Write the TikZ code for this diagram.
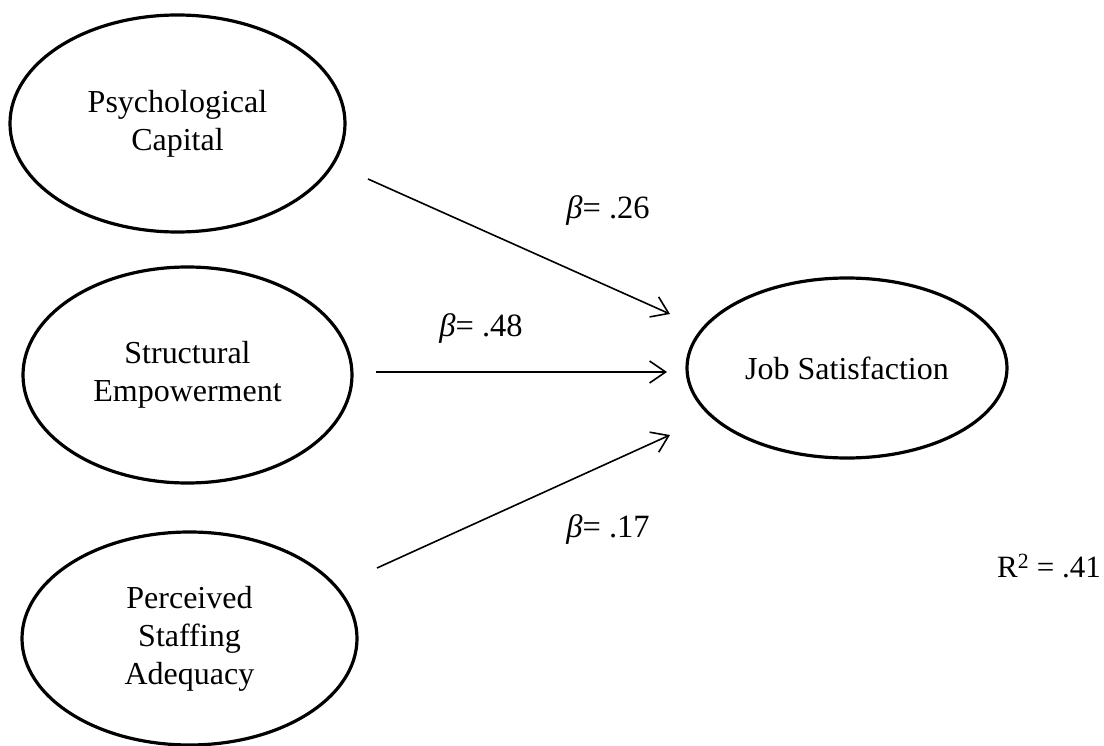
\documentclass[tikz,border=0pt]{standalone}
\usepackage{fontspec}
\setmainfont{Liberation Serif}
\usepackage{tikz}
\usetikzlibrary{shapes.geometric,arrows.meta}

\tikzset{
  latent/.style={ellipse,draw,line width=3.2pt,inner sep=0pt,align=center,
    font=\fontsize{32}{38}\selectfont},
  path/.style={line width=1.6pt,-{Straight Barb[length=16pt,width=22pt,line width=1.6pt]}},
  coef/.style={font=\fontsize{32.5}{36}\selectfont}
}

\begin{document}
\begin{tikzpicture}[x=1pt,y=-1pt]
\useasboundingbox (0,0) rectangle (1104,746);
\node[latent,minimum width=335pt,minimum height=217pt] (pc) at (177.5,123.5) {Psychological\\Capital};
\node[latent,minimum width=329pt,minimum height=216pt] (se) at (187.5,375) {Structural\\Empowerment};
\node[latent,minimum width=335pt,minimum height=213pt] (psa) at (189.5,638.5) {Perceived\\Staffing\\Adequacy};
\node[latent,minimum width=320pt,minimum height=180pt] (js) at (847,368) {Job Satisfaction};
% arrow ends
\coordinate (pc-out) at (368,179);
\coordinate (se-out) at (376,372);
\coordinate (psa-out) at (377,568);
\coordinate (js-in1) at (670,314);
\coordinate (js-in2) at (667,372);
\coordinate (js-in3) at (670,435);
\draw[path] (pc-out) -- (js-in1);
\draw[path] (se-out) -- (js-in2);
\draw[path] (psa-out) -- (js-in3);
\node[coef] (b1) at (608,211) {\textit{β}= .26};
\node[coef] (b2) at (481,329) {\textit{β}= .48};
\node[coef] (b3) at (608,530) {\textit{β}= .17};
\node[coef,font=\fontsize{31}{36}\selectfont] (r2) at (1049,566) {R\textsuperscript{2} = .41};
\end{tikzpicture}
\end{document}
